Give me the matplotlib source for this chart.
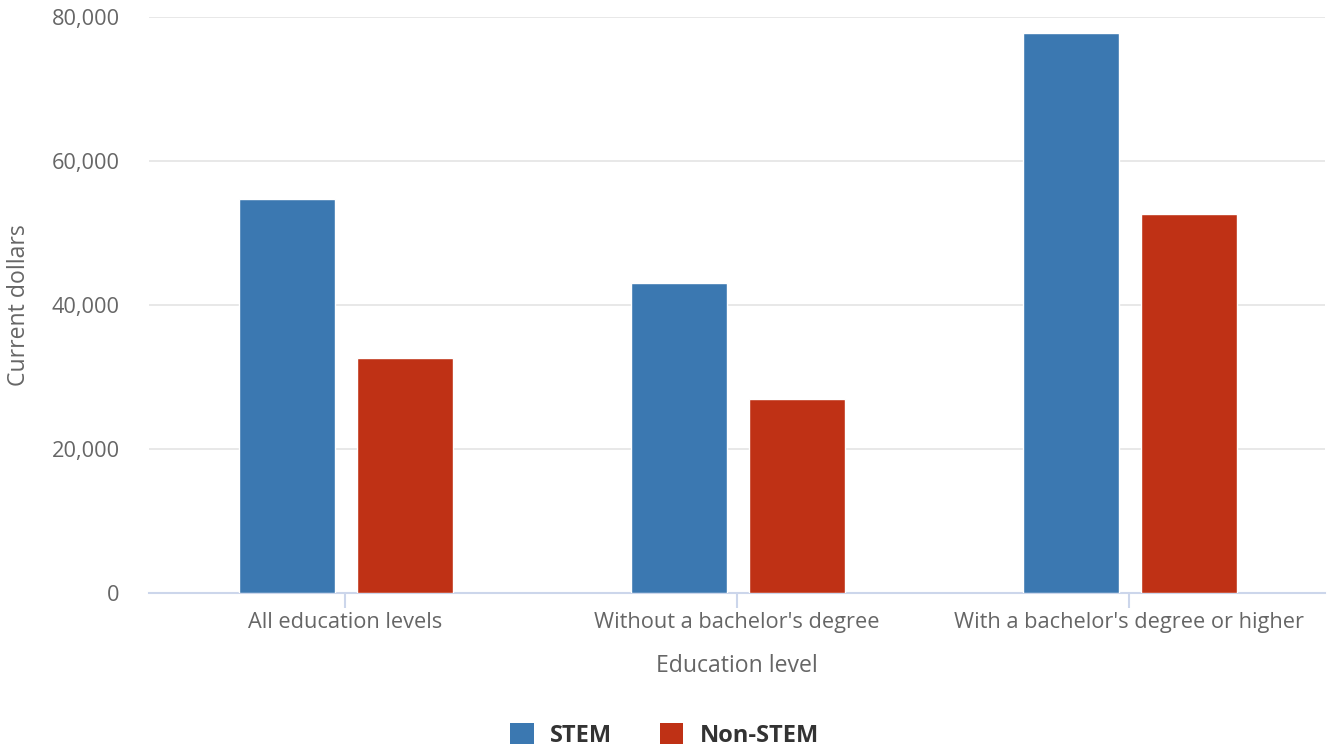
import numpy as np
import matplotlib.pyplot as plt
from matplotlib.patches import Patch
from matplotlib.ticker import FuncFormatter

plt.rcParams['font.family'] = ['Open Sans', 'DejaVu Sans']

categories = ["All education levels", "Without a bachelor's degree",
              "With a bachelor's degree or higher"]
stem = [54700, 43000, 77800]
non_stem = [32700, 26900, 52700]
series_names = ['STEM', 'Non-STEM']
colors = ['#3b78b1', '#bf3115']

fig = plt.figure(figsize=(13.29, 7.48), dpi=100)
ax = fig.add_axes([149 / 1329, 1 - 593 / 748, (1325 - 149) / 1329, (593 - 17) / 748])

x = np.arange(len(categories))
w = 0.245
ax.bar(x - 0.148, stem, w, color=colors[0], edgecolor='white', linewidth=1, zorder=3)
ax.bar(x + 0.152, non_stem, w, color=colors[1], edgecolor='white', linewidth=1, zorder=3)

ax.set_xlim(-0.5, 2.5)
ax.set_ylim(0, 80000)
ax.set_yticks([0, 20000, 40000, 60000, 80000])
ax.yaxis.set_major_formatter(FuncFormatter(lambda v, p: f'{int(v):,}'))
ax.grid(axis='y', color='#e6e6e6', linewidth=1.3, zorder=0)
ax.set_axisbelow(True)

for s in ['top', 'right', 'left']:
    ax.spines[s].set_visible(False)
ax.spines['bottom'].set_color('#ccd6eb')
ax.spines['bottom'].set_linewidth(1.5)

ax.set_xticks(x)
ax.set_xticklabels(categories)
ax.tick_params(axis='x', length=11, width=1.5, color='#ccd6eb', labelsize=15.7,
               labelcolor='#666666', pad=3)
ax.tick_params(axis='y', length=0, labelsize=15.7, labelcolor='#666666', pad=21)

ax.set_xlabel('Education level', fontsize=16.6, color='#666666', labelpad=15)
ax.set_ylabel('Current dollars', fontsize=16.6, color='#666666')
ax.yaxis.set_label_coords(-118 / 1176, 0.5)

handles = [Patch(facecolor=c, edgecolor='none') for c in colors]
fig.legend(handles, series_names, loc='lower center', bbox_to_anchor=(0.5, -0.028),
           ncol=2, frameon=False, handlelength=1.0, handleheight=1.0,
           handletextpad=0.7, columnspacing=2.0,
           prop={'weight': 'bold', 'size': 17}, labelcolor='#333333')

fig.savefig('out.png', dpi=100)
